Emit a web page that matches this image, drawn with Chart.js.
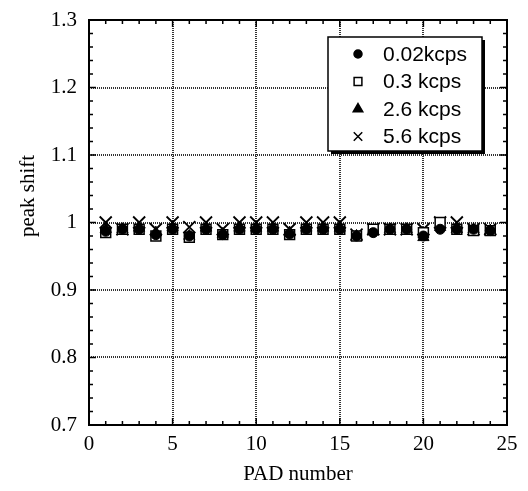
<!DOCTYPE html>
<html>
<head>
<meta charset="utf-8">
<script src="https://cdn.jsdelivr.net/npm/chart.js@4"></script>
<style>
  html, body { margin: 0; padding: 0; background: #fff; }
  #wrap { width: 528px; height: 491px; }
</style>
</head>
<body>
<div id="wrap"><canvas id="myChart" width="528" height="491"></canvas></div>
<script>
// PAD numbers and peak shift for each rate
const pads = [1, 2, 3, 4, 5, 6, 7, 8, 9, 10, 11, 12, 13, 14, 15, 16, 17, 18, 19, 20, 21, 22, 23, 24];
const rate002 = [0.987, 0.99, 0.99, 0.982, 0.99, 0.98, 0.99, 0.982, 0.99, 0.99, 0.99, 0.983, 0.99, 0.99, 0.99, 0.98, 0.985, 0.99, 0.99, 0.98, 0.99, 0.99, 0.99, 0.988];
const rate03 = [0.985, 0.99, 0.99, 0.98, 0.99, 0.978, 0.99, 0.982, 0.99, 0.99, 0.99, 0.982, 0.99, 0.99, 0.99, 0.98, 0.99, 0.99, 0.99, 0.985, 1.0, 0.99, 0.988, 0.988];
const rate26 = [0.99, 0.99, 0.992, 0.985, 0.993, 0.98, 0.992, 0.983, 0.992, 0.992, 0.992, 0.985, 0.992, 0.992, 0.992, 0.98, 0.987, 0.99, 0.99, 0.978, 0.993, 0.99, 0.99, 0.988];
const rate56 = [1.0, 0.99, 1.0, 0.99, 1.0, 0.993, 1.0, 0.99, 1.0, 1.0, 1.0, 0.99, 1.0, 1.0, 1.0, 0.982, 0.99, 0.99, 0.99, 0.99, 1.0, 1.0, 0.99, 0.99];
const seriesNames = ["0.02kcps", "0.3 kcps", "2.6 kcps", "5.6 kcps"];
const xTicks = [0, 5, 10, 15, 20, 25];
const yTicks = [0.7, 0.8, 0.9, 1, 1.1, 1.2, 1.3];

function pts(vals) {
  return vals.map(function (v, i) { return { x: pads[i], y: v }; });
}

const serif = "'Liberation Serif', 'Times New Roman', serif";
const sans = "'Liberation Sans', Arial, sans-serif";

// inward ticks on all four sides, major + minor, plus the y title
const frameTicks = {
  id: "frameTicks",
  afterDatasetsDraw(chart) {
    const ctx = chart.ctx;
    const a = chart.chartArea;
    const xs = chart.scales.x, ys = chart.scales.y;
    ctx.save();
    ctx.strokeStyle = "#000";
    ctx.lineWidth = 1.5;
    ctx.beginPath();
    for (let v = 0; v <= 25; v += 1) {
      const px = xs.getPixelForValue(v);
      const len = v % 5 === 0 ? 7 : 4;
      ctx.moveTo(px, a.bottom); ctx.lineTo(px, a.bottom - len);
      ctx.moveTo(px, a.top); ctx.lineTo(px, a.top + len);
    }
    for (let k = 0; k <= 30; k++) {
      const v = 0.7 + k * 0.02;
      const py = ys.getPixelForValue(v);
      const len = k % 5 === 0 ? 7 : 4;
      ctx.moveTo(a.left, py); ctx.lineTo(a.left + len, py);
      ctx.moveTo(a.right, py); ctx.lineTo(a.right - len, py);
    }
    ctx.stroke();
    ctx.lineWidth = 2;
    ctx.strokeRect(a.left, a.top, a.right - a.left, a.bottom - a.top);

    ctx.translate(28, 196);
    ctx.rotate(-Math.PI / 2);
    ctx.fillStyle = "#000";
    ctx.font = "21px " + serif;
    ctx.textAlign = "center";
    ctx.textBaseline = "middle";
    ctx.fillText("peak shift", 0, 0);
    ctx.restore();
  }
};

// boxed legend with shadow inside the plot
const boxLegend = {
  id: "boxLegend",
  afterDraw(chart) {
    const ctx = chart.ctx;
    const x = 328, y = 37, w = 154, h = 114;
    ctx.save();
    ctx.fillStyle = "#000";
    ctx.fillRect(x + 3, y + 3, w, h);
    ctx.fillStyle = "#fff";
    ctx.fillRect(x, y, w, h);
    ctx.strokeStyle = "#000";
    ctx.lineWidth = 1.5;
    ctx.strokeRect(x, y, w, h);
    ctx.font = "21px " + sans;
    ctx.textBaseline = "middle";
    chart.data.datasets.forEach(function (ds, i) {
      const ry = y + 17 + i * 27.5;
      ctx.fillStyle = ds.pointBackgroundColor;
      ctx.strokeStyle = "#000";
      Chart.helpers.drawPoint(ctx, {
        pointStyle: ds.pointStyle,
        radius: ds.legendRadius,
        rotation: 0,
        borderWidth: 1.5
      }, x + 30, ry);
      ctx.fillStyle = "#000";
      ctx.fillText(ds.label, x + 55, ry + 1);
    });
    ctx.restore();
  }
};

const ctx = document.getElementById("myChart");

new Chart(ctx, {
  type: "scatter",
  data: {
    datasets: [
      { label: seriesNames[0], data: pts(rate002), pointStyle: "circle", pointRadius: 5, legendRadius: 4,
        pointBackgroundColor: "#000", pointBorderColor: "#000", pointBorderWidth: 1 },
      { label: seriesNames[1], data: pts(rate03), pointStyle: "rect", pointRadius: 7, legendRadius: 5.5,
        pointBackgroundColor: "#fff", pointBorderColor: "#000", pointBorderWidth: 1.5 },
      { label: seriesNames[2], data: pts(rate26), pointStyle: "triangle", pointRadius: 6.5, legendRadius: 5.5,
        pointBackgroundColor: "#000", pointBorderColor: "#000", pointBorderWidth: 1 },
      { label: seriesNames[3], data: pts(rate56), pointStyle: "crossRot", pointRadius: 8.5, legendRadius: 6,
        pointBackgroundColor: "#000", pointBorderColor: "#000", pointBorderWidth: 1.8 }
    ]
  },
  options: {
    responsive: false,
    animation: false,
    events: [],
    layout: { padding: { left: 0, right: 21, top: 20, bottom: 0 } },
    plugins: { legend: { display: false }, tooltip: { enabled: false } },
    scales: {
      x: {
        type: "linear",
        min: 0,
        max: 25,
        afterBuildTicks: function (s) { s.ticks = xTicks.map(function (v) { return { value: v }; }); },
        afterFit: function (s) { s.height = 66; s.paddingLeft = 0; s.paddingRight = 0; },
        grid: { color: "#333", lineWidth: 2, drawTicks: false },
        border: { display: false, dash: [1, 1] },
        ticks: { color: "#000", font: { family: serif, size: 21 }, padding: 7, maxRotation: 0 },
        title: { display: true, text: "PAD number", color: "#000", font: { family: serif, size: 21 }, padding: { top: 2 } }
      },
      y: {
        type: "linear",
        min: 0.7,
        max: 1.3,
        afterBuildTicks: function (s) { s.ticks = yTicks.map(function (v) { return { value: v }; }); },
        afterFit: function (s) { s.width = 89; s.paddingTop = 0; s.paddingBottom = 0; },
        grid: { color: "#333", lineWidth: 2, drawTicks: false },
        border: { display: false, dash: [1, 1] },
        ticks: { color: "#000", font: { family: serif, size: 21 }, padding: 12,
          callback: function (v) { return Math.round(v * 10) / 10; } }
      }
    }
  },
  plugins: [frameTicks, boxLegend]
});
</script>
</body>
</html>
